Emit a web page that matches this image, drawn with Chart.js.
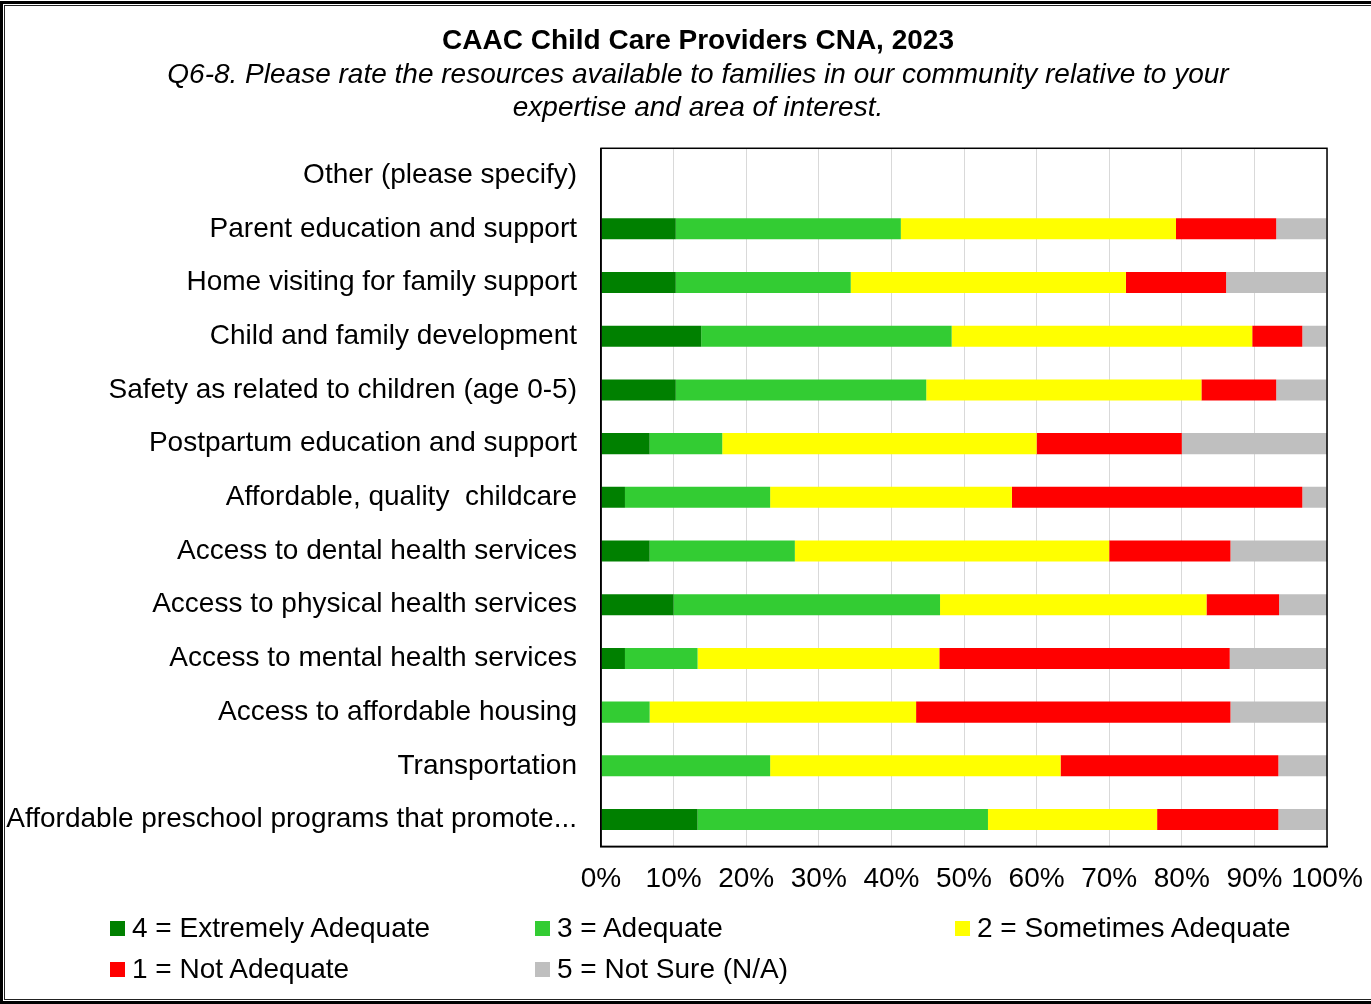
<!DOCTYPE html>
<html>
<head>
<meta charset="utf-8">
<script src="https://cdn.jsdelivr.net/npm/chart.js@4"></script>
<style>
  html, body { margin: 0; padding: 0; background: #fff; overflow: hidden; }
  #wrap { position: absolute; left: 0; top: 0; width: 1406px; height: 1004px; }
  #frame {
    position: absolute; left: 0; top: 1px; width: 1410px; height: 1003px;
    box-sizing: border-box; border: 3px solid #000;
    box-shadow: inset 0 0 0 1px #fff, inset 0 0 0 2px #222;
    pointer-events: none;
  }
  #legend { position: absolute; left: 0; top: 0; font-family: "Liberation Sans", Arial, sans-serif; font-size: 28px; color: #000; }
  .item { position: absolute; white-space: nowrap; line-height: 30px; }
  .item span.box { display: inline-block; width: 15px; height: 15px; margin-right: 7px; vertical-align: 1px; }
</style>
</head>
<body>
<div id="wrap"><canvas id="providersChart"></canvas></div>
<div id="legend"></div>
<div id="frame"></div>
<script>
// categories, top to bottom
const categories = [
  "Other (please specify)",
  "Parent education and support",
  "Home visiting for family support",
  "Child and family development",
  "Safety as related to children (age 0-5)",
  "Postpartum education and support",
  "Affordable, quality  childcare",
  "Access to dental health services",
  "Access to physical health services",
  "Access to mental health services",
  "Access to affordable housing",
  "Transportation",
  "Affordable preschool programs that promote...",
];

// share of answers (%) per rating
const extremelyAdequate = [0, 10.3, 10.3, 13.8, 10.3, 6.7, 3.3, 6.7, 10.0, 3.3, 0, 0, 13.3];
const adequate          = [0, 31.0, 24.1, 34.5, 34.5, 10.0, 20.0, 20.0, 36.7, 10.0, 6.7, 23.3, 40.0];
const sometimesAdequate = [0, 37.9, 37.9, 41.4, 37.9, 43.3, 33.3, 43.3, 36.7, 33.3, 36.7, 40.0, 23.3];
const notAdequate       = [0, 13.8, 13.8, 6.9, 10.3, 20.0, 40.0, 16.7, 10.0, 40.0, 43.3, 30.0, 16.7];
const notSure           = [0, 6.9, 13.8, 3.4, 6.9, 20.0, 3.3, 13.3, 6.7, 13.3, 13.3, 6.7, 6.7];

const seriesNames = ["4 = Extremely Adequate", "3 = Adequate", "2 = Sometimes Adequate", "1 = Not Adequate", "5 = Not Sure (N/A)"];
const seriesColors = ["#008000", "#33CC33", "#FFFF00", "#FF0000", "#BFBFBF"];
const seriesValues = [extremelyAdequate, adequate, sometimesAdequate, notAdequate, notSure];

const xTicks = [0, 10, 20, 30, 40, 50, 60, 70, 80, 90, 100];

const FONT = "'Liberation Sans', Arial, sans-serif";

// black frame round the plot area
const plotFrame = {
  id: "plotFrame",
  afterDatasetsDraw(chart) {
    const { ctx, chartArea: a } = chart;
    ctx.save();
    ctx.strokeStyle = "#000";
    ctx.lineWidth = 1.5;
    ctx.strokeRect(a.left, a.top, a.right - a.left, a.bottom - a.top);
    ctx.restore();
  },
};

const config = {
  type: "bar",
  data: {
    labels: categories,
    datasets: seriesNames.map((name, i) => ({
      label: name,
      data: seriesValues[i],
      backgroundColor: seriesColors[i],
      borderWidth: 0,
      barPercentage: 0.392,
      categoryPercentage: 1,
    })),
  },
  options: {
    indexAxis: "y",
    responsive: true,
    maintainAspectRatio: false,
    animation: false,
    layout: { padding: { left: 0, right: 10, top: 0, bottom: 92 } },
    plugins: {
      legend: { display: false },
      tooltip: { enabled: false },
      title: {
        display: true,
        text: "CAAC Child Care Providers CNA, 2023",
        color: "#000",
        font: { family: FONT, size: 28, weight: "bold", lineHeight: 1.15 },
        padding: { top: 25, bottom: 0 },
      },
      subtitle: {
        display: true,
        text: [
          "Q6-8. Please rate the resources available to families in our community relative to your",
          "expertise and area of interest.",
        ],
        color: "#000",
        font: { family: FONT, size: 28, style: "italic", lineHeight: 1.18 },
        padding: { top: 1, bottom: 24 },
      },
    },
    scales: {
      x: {
        stacked: true,
        min: 0,
        max: 100,
        afterBuildTicks: (scale) => { scale.ticks = xTicks.map((v) => ({ value: v })); },
        ticks: {
          color: "#000",
          font: { family: FONT, size: 28 },
          padding: 16,
          maxRotation: 0,
          minRotation: 0,
          autoSkip: false,
          callback: (v) => v + "%",
        },
        grid: { color: "#d9d9d9", lineWidth: 1, drawTicks: false },
        border: { color: "#000", width: 1.5 },
      },
      y: {
        stacked: true,
        afterFit: (scale) => { scale.width = 601; },
        ticks: {
          color: "#000",
          font: { family: FONT, size: 28 },
          padding: 24,
          autoSkip: false,
        },
        grid: { display: false, drawTicks: false },
        border: { color: "#000", width: 1.5 },
      },
      // empty right-hand box: keeps the plot's right edge where the original has it
      spacer: {
        type: "linear",
        axis: "y",
        position: "right",
        afterFit: (scale) => { scale.width = 69; },
        ticks: { display: false },
        grid: { display: false, drawTicks: false },
        border: { display: false },
      },
    },
  },
  plugins: [plotFrame],
};

const ctx = document.getElementById("providersChart").getContext("2d");
new Chart(ctx, config);

// legend laid out in columns like the original
const legendSpots = [[110, 928], [535, 928], [955, 928], [110, 969], [535, 969]];
const legendBox = document.getElementById("legend");
seriesNames.forEach((name, i) => {
  const el = document.createElement("div");
  el.className = "item";
  el.style.left = legendSpots[i][0] + "px";
  el.style.top = (legendSpots[i][1] - 15) + "px";
  el.innerHTML = '<span class="box" style="background:' + seriesColors[i] + '"></span>' + name;
  legendBox.appendChild(el);
});
</script>
</body>
</html>
